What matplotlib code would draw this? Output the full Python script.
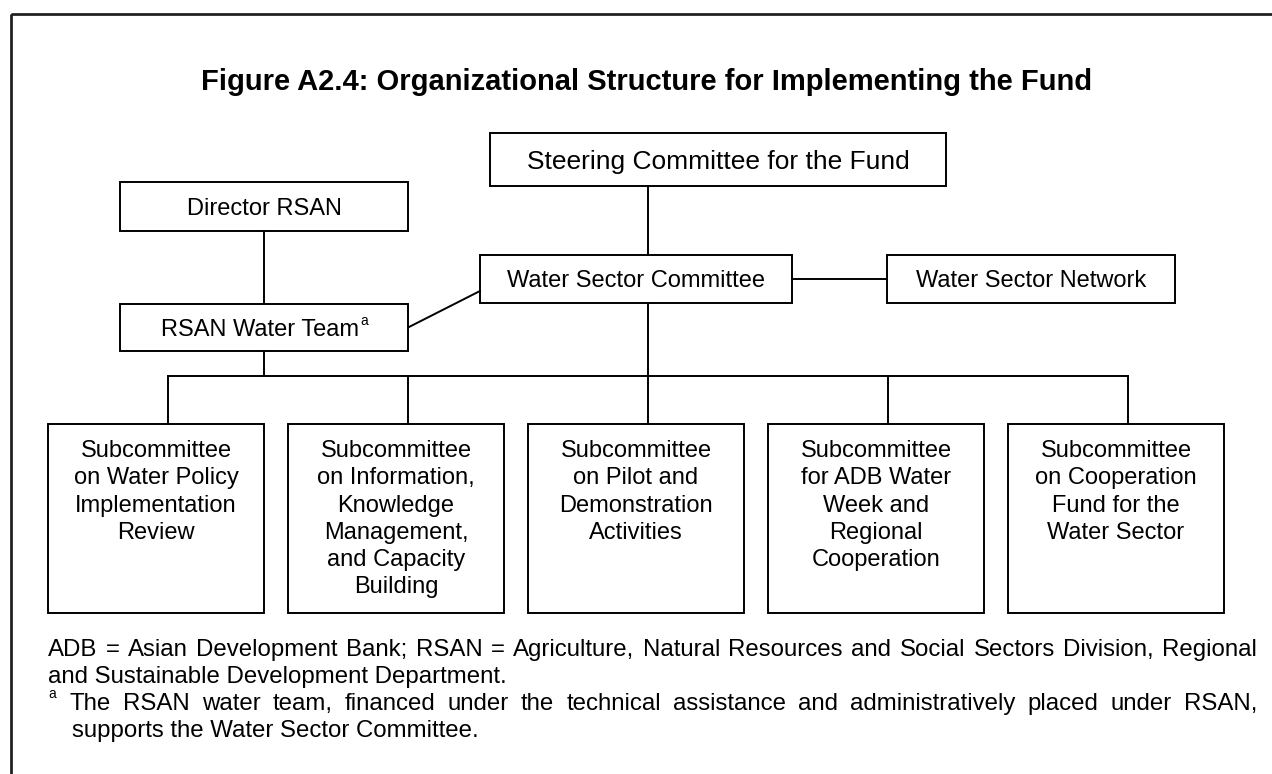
import matplotlib
matplotlib.use("Agg")
import matplotlib.pyplot as plt
from matplotlib.patches import Rectangle

plt.rcParams['font.family'] = ['Liberation Sans', 'DejaVu Sans']

# ---------------- content ----------------
title = "Figure A2.4: Organizational Structure for Implementing the Fund"

steering_label = "Steering Committee for the Fund"
director_label = "Director RSAN"
wsc_label = "Water Sector Committee"
wsn_label = "Water Sector Network"
team_label = "RSAN Water Team"
team_mark = "a"

sub_labels = [
    ["Subcommittee", "on Water Policy", "Implementation", "Review"],
    ["Subcommittee", "on Information,", "Knowledge", "Management,", "and Capacity", "Building"],
    ["Subcommittee", "on Pilot and", "Demonstration", "Activities"],
    ["Subcommittee", "for ADB Water", "Week and", "Regional", "Cooperation"],
    ["Subcommittee", "on Cooperation", "Fund for the", "Water Sector"],
]

note_line1 = "ADB = Asian Development Bank; RSAN = Agriculture, Natural Resources and Social Sectors Division, Regional"
note_line2 = "and Sustainable Development Department."
note_mark = "a"
note_line3 = "The RSAN water team, financed under the technical assistance and administratively placed under RSAN,"
note_line4 = "supports the Water Sector Committee."

# ---------------- layout (pixel coordinates) ----------------
W, H = 1272, 774
fig = plt.figure(figsize=(W / 100, H / 100), dpi=100)
ax = fig.add_axes([0, 0, 1, 1])
ax.set_xlim(0, W)
ax.set_ylim(H, 0)
ax.axis('off')

BOX_LW = 1.4
LINE_LW = 1.4

boxes = {
    'steer': (490, 133, 946, 186),
    'director': (120, 182, 408, 231),
    'wsc': (480, 255, 792, 303),
    'wsn': (887, 255, 1175, 303),
    'team': (120, 304, 408, 351),
}
sub_x0 = [48, 288, 528, 768, 1008]
sub_w = 216
sub_y0, sub_y1 = 424, 613
drop_x = [168, 408, 648, 888, 1128]
bus_y = 376

# outer frame (runs off right and bottom edges)
ax.add_patch(Rectangle((11, 14), 1400, 900, fill=False, lw=2.0, ec='#222222', zorder=1))

def draw_box(b):
    x0, y0, x1, y1 = b
    ax.add_patch(Rectangle((x0, y0), x1 - x0, y1 - y0, fill=False, lw=BOX_LW, ec='black',
                           zorder=3))

def line(xs, ys):
    ax.plot(xs, ys, color='black', lw=LINE_LW, solid_capstyle='projecting', zorder=2)

for b in boxes.values():
    draw_box(b)
for x0 in sub_x0:
    draw_box((x0, sub_y0, x0 + sub_w, sub_y1))

# connectors
line([648, 648], [186, 255])                 # steering -> WSC
line([264, 264], [231, 304])                 # director -> team
line([409, 480], [327, 291])                 # team -> WSC (diagonal)
line([792, 887], [279, 279])                 # WSC -> network
line([648, 648], [303, bus_y])               # WSC -> bus
line([264, 264], [351, bus_y])               # team -> bus
line([drop_x[0], drop_x[-1]], [bus_y, bus_y])
for x in drop_x:
    line([x, x], [bus_y, sub_y0])

# title
ax.text(647, 90, title, fontsize=21, fontweight='bold', ha='center', va='baseline', zorder=5)

def box_text(b, s, size):
    x0, y0, x1, y1 = b
    cap = 0.716 * size * 100 / 72
    ax.text((x0 + x1) / 2, (y0 + y1) / 2 + cap / 2, s, fontsize=size, ha='center',
            va='baseline', zorder=5)

box_text(boxes['steer'], steering_label, 19)
box_text(boxes['director'], director_label, 17)
box_text(boxes['wsc'], wsc_label, 17)
box_text(boxes['wsn'], wsn_label, 17)

fig.canvas.draw()
renderer = fig.canvas.get_renderer()

def width_of(t):
    return t.get_window_extent(renderer).width

# team label with superscript
x0, y0, x1, y1 = boxes['team']
size = 17
cap = 0.716 * size * 100 / 72
base = (y0 + y1) / 2 + cap / 2
t_main = ax.text(0, base, team_label, fontsize=size, ha='left', va='baseline', zorder=5)
t_sup = ax.text(0, base - 11, team_mark, fontsize=10, ha='left', va='baseline', zorder=5)
wm, ws = width_of(t_main), width_of(t_sup)
start = (x0 + x1) / 2 - (wm + ws) / 2
t_main.set_x(start)
t_sup.set_x(start + wm + 1)

# subcommittee texts
first_base = 457
spacing = 27.3
for x0, lines in zip(sub_x0, sub_labels):
    cx = x0 + sub_w / 2
    for i, s in enumerate(lines):
        ax.text(cx, first_base + i * spacing, s, fontsize=17, ha='center', va='baseline', zorder=5)

# notes
NOTE_SIZE = 17.3
note_base = [656, 683, 710, 737]

def justify(text, xa, xb, y):
    words = text.split(' ')
    ts = [ax.text(0, y, w, fontsize=NOTE_SIZE, ha='left', va='baseline', zorder=5) for w in words]
    ws_ = [width_of(t) for t in ts]
    gap = (xb - xa - sum(ws_)) / (len(words) - 1)
    x = xa
    for t, w in zip(ts, ws_):
        t.set_x(x)
        x += w + gap

justify(note_line1, 48, 1257, note_base[0])
ax.text(48, note_base[1], note_line2, fontsize=NOTE_SIZE, ha='left', va='baseline', zorder=5)
ax.text(48, note_base[2] - 12, note_mark, fontsize=10, ha='left', va='baseline', zorder=5)
justify(note_line3, 70, 1257, note_base[2])
ax.text(72, note_base[3], note_line4, fontsize=NOTE_SIZE, ha='left', va='baseline', zorder=5)

fig.savefig("out.png", dpi=100, facecolor='white')
